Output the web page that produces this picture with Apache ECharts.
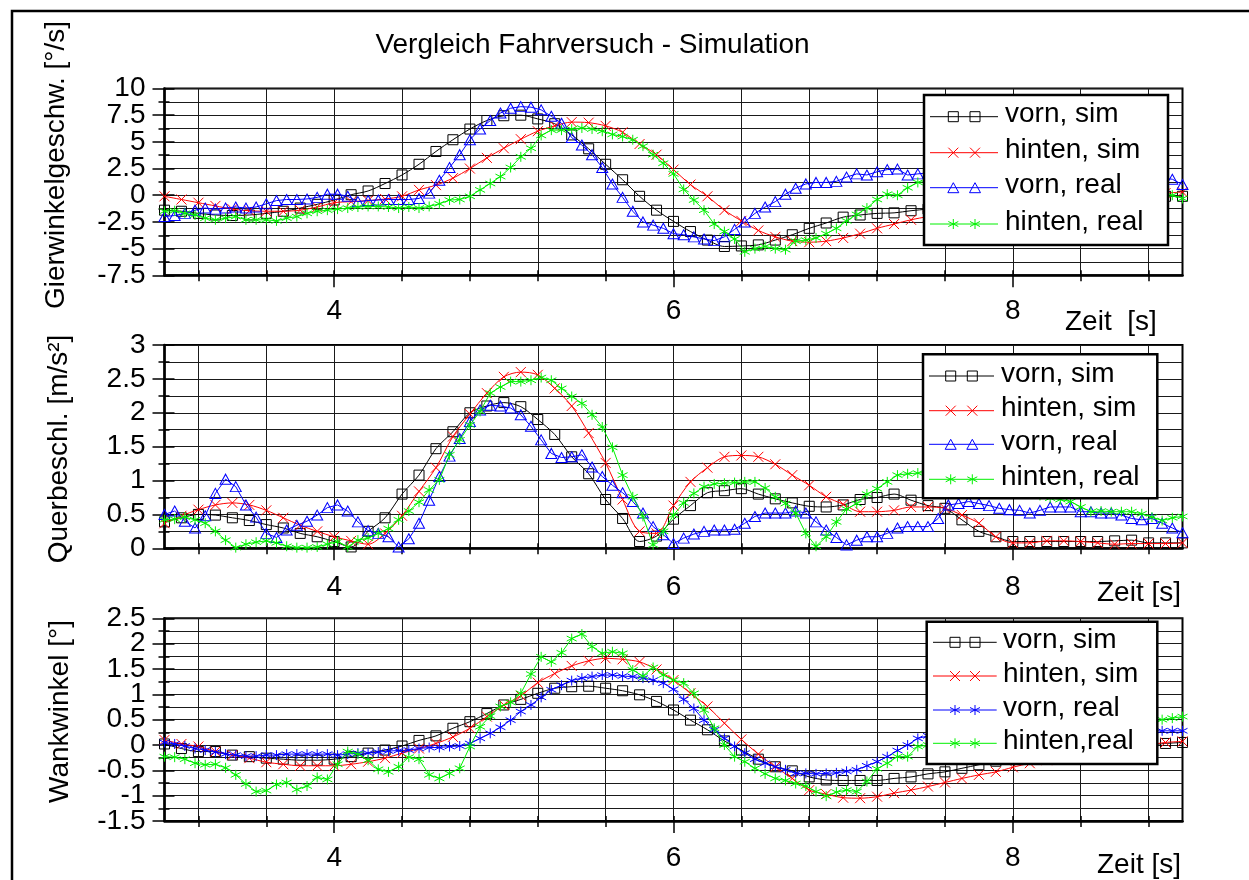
<!DOCTYPE html>
<html><head><meta charset="utf-8">
<script src="https://cdn.jsdelivr.net/npm/echarts@6/dist/echarts.min.js"></script>
<style>html,body{margin:0;padding:0;background:#fff}#c{width:1249px;height:880px}</style>
</head><body><div id="c"></div>
<script>
// ---------------- DATA ----------------
const TITLE = 'Vergleich Fahrversuch - Simulation';
const Y_NAMES = ['Gierwinkelgeschw. [°/s]', 'Querbeschl. [m/s²]', 'Wankwinkel [°]'];
const X_NAMES = ['Zeit  [s]', 'Zeit [s]', 'Zeit [s]'];
const LEGEND_1 = ['vorn, sim', 'hinten, sim', 'vorn, real', 'hinten, real'];
const LEGEND_2 = ['vorn, sim', 'hinten, sim', 'vorn, real', 'hinten, real'];
const LEGEND_3 = ['vorn, sim', 'hinten, sim', 'vorn, real', 'hinten,real'];
const X_LABELS = [4, 6, 8];
const X_GRID_TICKS = [3.2,3.6,4,4.4,4.8,5.2,5.6,6,6.4,6.8,7.2,7.6,8,8.4,8.8];
const Y_TICKS_1 = [-7.5,-5,-2.5,0,2.5,5,7.5,10];
const Y_TICKS_2 = [0,0.5,1,1.5,2,2.5,3];
const Y_TICKS_3 = [-1.5,-1,-0.5,0,0.5,1,1.5,2,2.5];

// sampling: simulation every 0.1 s, measurement every 0.06 s, starting at 3 s
const SIM_START = 3, SIM_STEP = 0.1;
const REAL_START = 3, REAL_STEP = 0.06;

// Panel 1: Gierwinkelgeschwindigkeit
const P1_VORN_SIM = [-1.4,-1.5,-1.7,-1.85,-1.9,-1.85,-1.7,-1.5,-1.2,-0.85,
 -0.45,0.05,0.4,1.1,1.9,2.9,4.1,5.2,6.2,7.0,
 7.45,7.5,7.15,6.7,5.65,4.35,2.9,1.45,-0.1,-1.4,
 -2.45,-3.4,-4.2,-4.8,-4.75,-4.65,-4.2,-3.7,-3.1,-2.6,
 -2.05,-1.85,-1.7,-1.65,-1.45,-1.3,-1.2,-1.1,-0.95,-0.85,
 -0.75,-0.6,-0.5,-0.4,-0.35,-0.3,-0.25,-0.2,-0.15,-0.1,-0.1];
const P1_HINTEN_SIM = [-0.1,-0.4,-0.7,-1.0,-1.3,-1.45,-1.5,-1.5,-1.4,-1.1,
 -0.7,-0.6,-0.5,-0.35,-0.1,0.5,0.95,1.6,2.5,3.5,
 4.4,5.25,6.0,6.5,6.85,6.8,6.5,5.9,4.8,3.8,
 2.4,1.0,-0.1,-1.4,-2.4,-3.3,-3.9,-4.3,-4.4,-4.3,
 -4.0,-3.6,-3.1,-2.7,-2.3,-2.0,-1.75,-1.5,-1.3,-1.1,
 -0.95,-0.8,-0.65,-0.5,-0.4,-0.3,-0.15,0.0,0.1,0.2,0.3];
const P1_VORN_REAL = [-2.0,-1.9,-1.7,-1.4,-1.2,-1.3,-1.2,-1.1,-1.2,-1.1,
 -0.8,-0.5,-0.4,-0.4,-0.35,-0.2,0.1,0.1,-0.1,-0.6,
 -0.5,-0.45,-0.4,-0.4,-0.4,-0.3,0.2,1.4,2.6,3.8,
 5.2,6.2,7.0,7.7,8.15,8.3,8.25,8.0,7.4,6.75,
 5.4,4.7,3.8,2.6,1.05,-0.2,-1.5,-2.5,-2.8,-3.1,
 -3.6,-3.7,-3.9,-4.1,-4.25,-3.9,-3.2,-2.5,-1.7,-1.1,
 -0.6,0.1,0.66,1.06,1.2,1.2,1.3,1.7,2.0,1.9,
 2.2,2.4,2.45,1.9,2.0,2.1,2.2,2.1,2.0,2.1,
 2.2,2.1,2.0,1.9,2.0,2.1,2.0,1.9,1.8,1.9,
 2.0,1.9,1.8,1.7,1.8,1.9,1.8,1.7,1.6,1.5,1.0];
const P1_HINTEN_REAL = [-1.5,-1.45,-1.7,-1.85,-2.15,-2.3,-2.15,-2.0,-2.3,-2.3,
 -2.3,-2.4,-2.15,-2.0,-1.7,-1.5,-1.4,-1.3,-1.2,-1.1,
 -1.05,-1.05,-1.1,-1.2,-1.1,-1.2,-1.05,-0.8,-0.45,-0.4,
 -0.1,0.5,1.1,1.75,2.6,3.6,4.4,5.6,6.1,6.1,
 6.2,6.3,6.2,6.0,5.7,5.5,5.2,4.6,3.8,3.0,
 2.0,0.55,-0.45,-1.4,-2.7,-3.4,-4.1,-5.3,-5.0,-4.8,
 -5.0,-5.1,-4.3,-4.2,-4.0,-3.6,-3.1,-2.4,-1.8,-1.2,
 -0.4,0.1,0.0,0.7,1.2,1.3,1.35,1.4,1.35,1.3,
 1.25,1.2,1.1,1.0,0.9,0.8,0.7,0.6,0.5,0.45,
 0.4,0.35,0.3,0.25,0.2,0.2,0.15,0.1,0.1,0.0,-0.3];

// Panel 2: Querbeschleunigung
const P2_VORN_SIM = [0.39,0.45,0.5,0.49,0.45,0.41,0.35,0.3,0.22,0.17,
 0.1,0.02,0.25,0.45,0.8,1.08,1.47,1.72,2.0,2.1,
 2.15,2.09,1.9,1.68,1.35,1.1,0.72,0.44,0.1,0.18,
 0.43,0.63,0.82,0.85,0.88,0.8,0.73,0.67,0.62,0.61,
 0.64,0.72,0.75,0.8,0.71,0.63,0.59,0.42,0.25,0.17,
 0.1,0.1,0.1,0.1,0.1,0.1,0.11,0.12,0.08,0.08,0.08];
const P2_HINTEN_SIM = [0.37,0.48,0.57,0.64,0.67,0.64,0.56,0.45,0.34,0.25,
 0.17,0.11,0.06,0.22,0.48,0.84,1.19,1.65,1.98,2.29,
 2.53,2.6,2.56,2.36,2.1,1.7,1.26,0.72,0.25,0.22,
 0.63,0.98,1.19,1.35,1.37,1.35,1.24,1.08,0.93,0.76,
 0.65,0.54,0.54,0.56,0.61,0.61,0.59,0.49,0.37,0.17,
 0.08,0.08,0.11,0.11,0.1,0.08,0.06,0.07,0.07,0.07,0.08];
const P2_VORN_REAL = [0.5,0.55,0.4,0.3,0.48,0.81,1.02,0.91,0.64,0.46,
 0.22,0.16,0.27,0.34,0.4,0.49,0.6,0.64,0.55,0.39,
 0.26,0.22,0.17,0.02,0.14,0.37,0.71,1.06,1.36,1.62,
 1.87,2.04,2.11,2.1,2.07,1.97,1.8,1.6,1.4,1.34,
 1.35,1.38,1.2,1.06,0.93,0.82,0.69,0.52,0.32,0.2,
 0.07,0.15,0.21,0.25,0.27,0.27,0.28,0.37,0.47,0.52,
 0.52,0.52,0.55,0.52,0.39,0.27,0.16,0.05,0.12,0.17,
 0.17,0.22,0.3,0.32,0.32,0.32,0.44,0.64,0.66,0.69,
 0.66,0.63,0.59,0.57,0.56,0.52,0.56,0.61,0.61,0.61,
 0.54,0.54,0.52,0.52,0.49,0.44,0.42,0.44,0.37,0.3,0.23];
const P2_HINTEN_REAL = [0.42,0.43,0.46,0.42,0.37,0.25,0.12,0.01,0.06,0.09,
 0.11,0.08,0.03,0.01,0.01,0.02,0.06,0.1,0.02,0.12,
 0.15,0.22,0.29,0.42,0.55,0.68,0.86,1.01,1.38,1.6,
 1.82,2.02,2.29,2.38,2.46,2.46,2.48,2.52,2.48,2.36,
 2.24,2.14,1.97,1.79,1.49,1.08,0.76,0.47,0.05,0.25,
 0.49,0.67,0.81,0.91,0.95,0.96,0.97,0.98,0.98,0.89,
 0.76,0.66,0.52,0.22,0.03,0.17,0.39,0.58,0.66,0.8,
 0.88,0.98,1.08,1.1,1.11,1.12,1.12,1.1,1.08,1.05,
 1.0,0.97,0.93,0.9,0.86,0.82,0.78,0.74,0.72,0.69,
 0.61,0.54,0.55,0.54,0.54,0.54,0.51,0.46,0.41,0.45,0.47];

// Panel 3: Wankwinkel
const P3_VORN_SIM = [0.02,-0.07,-0.13,-0.13,-0.2,-0.23,-0.26,-0.28,-0.3,-0.3,
 -0.28,-0.23,-0.16,-0.1,-0.02,0.09,0.18,0.33,0.46,0.62,
 0.79,0.9,1.02,1.12,1.15,1.16,1.12,1.07,0.99,0.86,
 0.69,0.49,0.3,0.08,-0.1,-0.28,-0.43,-0.51,-0.63,-0.69,
 -0.7,-0.7,-0.7,-0.66,-0.63,-0.57,-0.53,-0.46,-0.39,-0.32,
 -0.25,-0.22,-0.18,-0.15,-0.12,-0.09,-0.06,-0.03,0.0,0.03,0.05];
const P3_HINTEN_SIM = [0.1,0.02,-0.03,-0.13,-0.2,-0.26,-0.34,-0.38,-0.41,-0.41,
 -0.41,-0.38,-0.33,-0.26,-0.16,-0.07,0.03,0.16,0.33,0.56,
 0.79,0.97,1.23,1.41,1.56,1.66,1.71,1.69,1.64,1.49,
 1.28,1.02,0.76,0.43,0.11,-0.18,-0.43,-0.66,-0.89,-0.97,
 -1.04,-1.05,-1.02,-0.95,-0.89,-0.82,-0.74,-0.66,-0.59,-0.53,
 -0.44,-0.36,-0.3,-0.25,-0.2,-0.15,-0.1,-0.05,0.0,0.05,0.07];
const P3_VORN_REAL = [0.05,0.02,-0.02,-0.07,-0.1,-0.14,-0.18,-0.2,-0.22,-0.22,
 -0.2,-0.2,-0.18,-0.18,-0.18,-0.18,-0.18,-0.2,-0.18,-0.16,
 -0.16,-0.14,-0.12,-0.11,-0.1,-0.07,-0.05,-0.05,-0.03,-0.02,
 0.03,0.13,0.23,0.35,0.49,0.66,0.79,0.94,1.09,1.18,
 1.27,1.32,1.35,1.38,1.38,1.36,1.35,1.32,1.28,1.22,
 1.1,0.9,0.72,0.49,0.3,0.13,-0.03,-0.16,-0.28,-0.36,
 -0.43,-0.49,-0.56,-0.56,-0.57,-0.56,-0.55,-0.52,-0.49,-0.41,
 -0.33,-0.23,-0.11,0.0,0.13,0.18,0.22,0.25,0.27,0.28,
 0.29,0.3,0.3,0.31,0.31,0.31,0.3,0.3,0.3,0.29,
 0.29,0.29,0.28,0.28,0.28,0.28,0.28,0.28,0.28,0.28,0.28];
const P3_HINTEN_REAL = [-0.23,-0.24,-0.28,-0.36,-0.39,-0.38,-0.45,-0.59,-0.77,-0.92,
 -0.9,-0.78,-0.74,-0.88,-0.81,-0.64,-0.68,-0.38,-0.13,-0.18,
 -0.3,-0.48,-0.53,-0.43,-0.24,-0.28,-0.59,-0.66,-0.56,-0.46,
 -0.03,0.36,0.57,0.76,0.84,1.02,1.4,1.74,1.64,1.82,
 2.1,2.19,1.94,1.81,1.84,1.81,1.48,1.36,1.53,1.38,
 1.28,1.22,1.02,0.69,0.33,0.0,-0.23,-0.33,-0.46,-0.57,
 -0.66,-0.7,-0.76,-0.81,-0.92,-1.01,-0.93,-0.89,-0.92,-0.72,
 -0.47,-0.36,-0.23,-0.23,-0.03,0.0,0.04,0.07,0.09,0.12,
 0.14,0.15,0.18,0.2,0.21,0.24,0.26,0.27,0.3,0.32,
 0.33,0.36,0.38,0.4,0.41,0.44,0.46,0.47,0.5,0.53,0.56];

// ---------------- STYLE / LAYOUT ----------------
const FONT = '"Liberation Sans", Arial, sans-serif';
const MARKS = {
  SQ:  {poly:[[0,0],[10,0],[10,10],[0,10]]},
  XX:  {lines:[[0,0,10,10],[10,0,0,10]]},
  TRI: {poly:[[5,0],[10,9],[0,9]]},
  AST: {lines:[[5,0,5,10],[0.7,2.5,9.3,7.5],[0.7,7.5,9.3,2.5]]}
};
function markPath(m){
  if (m.poly) return 'path://M' + m.poly.map(p=>p[0]+','+p[1]).join('L') + 'Z';
  return 'path://' + m.lines.map(l=>'M'+l[0]+','+l[1]+'L'+l[2]+','+l[3]).join('');
}
const STY = {
  vs: {color:'#000000', mark:'SQ',  size:[10,10], smooth:0.3},
  hs: {color:'#ff0000', mark:'XX',  size:[10,10], smooth:0.3},
  vrT:{color:'#0000ff', mark:'TRI', size:[11,10], smooth:false},
  vrA:{color:'#0000ff', mark:'AST', size:[10,10], smooth:false},
  hr: {color:'#00f000', mark:'AST', size:[10,10], smooth:false}
};
const PLOT_LEFT = 164.5, PLOT_WIDTH = 1018;
const PANELS = [
  {top:88.5, height:186.8, yTicks:Y_TICKS_1, labelMargin:22,
   series:[[P1_VORN_SIM,'vs'],[P1_HINTEN_SIM,'hs'],[P1_VORN_REAL,'vrT'],[P1_HINTEN_REAL,'hr']],
   yName:{x:56,y:165}, xName:{x:1065,y:322},
   legend:{x:924,y:95,w:244,h:150,l1:930,l2:998,m1:953.3,m2:975,tx:1005,rows:[116.7,152.7,187.7,224],labels:LEGEND_1}},
  {top:345, height:203.3, yTicks:Y_TICKS_2, labelMargin:25,
   series:[[P2_VORN_SIM,'vs'],[P2_HINTEN_SIM,'hs'],[P2_VORN_REAL,'vrT'],[P2_HINTEN_REAL,'hr']],
   yName:{x:59,y:449}, xName:{x:1097,y:593.5},
   legend:{x:923,y:354.3,w:234.3,h:144,l1:929,l2:994,m1:950.7,m2:972.3,tx:1001,rows:[376,410.7,444.3,479.3],labels:LEGEND_2}},
  {top:618.3, height:202.7, yTicks:Y_TICKS_3, labelMargin:23,
   series:[[P3_VORN_SIM,'vs'],[P3_HINTEN_SIM,'hs'],[P3_VORN_REAL,'vrA'],[P3_HINTEN_REAL,'hr']],
   yName:{x:60,y:711.5}, xName:{x:1097,y:865},
   legend:{x:926.7,y:621.7,w:230.6,h:142.3,l1:933,l2:996.7,m1:955,m2:975,tx:1003,rows:[642.3,676,710,743.3],labels:LEGEND_3}}
];
const GRID_COLOR = '#1a1a1a';

function times(n, start, step){ const t=[]; for(let i=0;i<n;i++) t.push(+(start+step*i).toFixed(3)); return t; }

function markerEls(s, cx, cy){
  const m = MARKS[s.mark];
  const pts = m.poly ? m.poly : m.lines.flatMap(l=>[[l[0],l[1]],[l[2],l[3]]]);
  const xs = pts.map(p=>p[0]), ys = pts.map(p=>p[1]);
  const x0=Math.min(...xs), x1=Math.max(...xs), y0=Math.min(...ys), y1=Math.max(...ys);
  const sx = s.size[0]/(x1-x0), sy = s.size[1]/(y1-y0);
  const tx = x=>cx - s.size[0]/2 + (x-x0)*sx, ty = y=>cy - s.size[1]/2 + (y-y0)*sy;
  const st = {fill:'none', stroke:s.color, lineWidth:1};
  if (m.poly) return [{type:'polygon', shape:{points:m.poly.map(p=>[tx(p[0]),ty(p[1])])}, style:st, z:102}];
  return m.lines.map(l=>({type:'line', shape:{x1:tx(l[0]),y1:ty(l[1]),x2:tx(l[2]),y2:ty(l[3])}, style:st, z:102}));
}

const grids=[], xAxes=[], yAxes=[], series=[], graphics=[];
graphics.push({type:'rect', shape:{x:12,y:11,width:1400,height:1000}, style:{fill:'none',stroke:'#000',lineWidth:2.5}, z:1});
graphics.push({type:'text', x:592.5, y:45, style:{text:TITLE, font:'28px '+FONT, fill:'#000', align:'center', verticalAlign:'middle'}, z:5});

PANELS.forEach((p,k)=>{
  grids.push({left:PLOT_LEFT, top:p.top, width:PLOT_WIDTH, height:p.height, show:true, borderColor:'#000', borderWidth:2, backgroundColor:'rgba(0,0,0,0)', outerBoundsMode:'none'});
  const base = {gridIndex:k, type:'value', min:3, max:9, position:'bottom', axisLine:{show:false, onZero:false}, splitLine:{show:false}, axisLabel:{show:false}, axisTick:{show:false}};
  xAxes.push(Object.assign({}, base, {interval:0.2, axisLine:{show:true,onZero:false,lineStyle:{color:'#000',width:2.5}},
     splitLine:{show:true, lineStyle:{color:['rgba(0,0,0,0)',GRID_COLOR], width:1}}}));
  xAxes.push(Object.assign({}, base, {axisTick:{show:true, customValues:X_GRID_TICKS, length:6, lineStyle:{color:'#000',width:1.5}},
     axisLabel:{show:true, customValues:X_LABELS, fontSize:28, fontFamily:FONT, color:'#000', margin:p.labelMargin}}));
  xAxes.push(Object.assign({}, base, {axisTick:{show:true, inside:true, customValues:X_GRID_TICKS, length:5, lineStyle:{color:'#000',width:1.5}}}));
  xAxes.push(Object.assign({}, base, {axisTick:{show:true, customValues:X_LABELS, length:12, lineStyle:{color:'#000',width:1.5}}}));

  const yt=p.yTicks, ymin=yt[0], ymax=yt[yt.length-1], yint=yt[1]-yt[0];
  const evenLabels = yt.filter((v,i)=>i%2===0), oddLabels = yt.filter((v,i)=>i%2===1);
  const lab = (vals)=>({show:true,fontSize:28,fontFamily:FONT,color:'#000',margin:19,lineHeight:22,
               customValues:vals, showMinLabel:true, showMaxLabel:true, hideOverlap:false});
  yAxes.push({gridIndex:k, type:'value', position:'left', min:ymin, max:ymax, interval:yint,
    axisLine:{show:true,onZero:false,lineStyle:{color:'#000',width:2.5}},
    axisTick:{show:true,length:12,lineStyle:{color:'#000',width:1.5}},
    minorTick:{show:true,splitNumber:2,length:6,lineStyle:{color:'#000',width:1.5}},
    axisLabel:lab(evenLabels),
    splitLine:{show:true,lineStyle:{color:GRID_COLOR,width:1}},
    minorSplitLine:{show:true,lineStyle:{color:GRID_COLOR,width:1}}});
  yAxes.push({gridIndex:k, type:'value', position:'left', min:ymin, max:ymax, interval:yint,
    axisLine:{show:false,onZero:false},
    axisTick:{show:true,inside:true,length:10,lineStyle:{color:'#000',width:1.5}},
    minorTick:{show:true,splitNumber:2,length:5,lineStyle:{color:'#000',width:1.5}},
    axisLabel:lab(oddLabels), splitLine:{show:false}});

  p.series.forEach(([vals,key],j)=>{
    const s=STY[key];
    const isSim = (key==='vs'||key==='hs');
    const t = isSim ? times(vals.length, SIM_START, SIM_STEP) : times(vals.length, REAL_START, REAL_STEP);
    series.push({type:'line', xAxisIndex:4*k, yAxisIndex:2*k, data:t.map((x,i)=>[x,vals[i]]),
      symbol:markPath(MARKS[s.mark]), symbolSize:s.size, showAllSymbol:true, smooth:s.smooth,
      lineStyle:{color:s.color,width:1}, itemStyle:{color:'rgba(0,0,0,0)',borderColor:s.color,borderWidth:1},
      emphasis:{disabled:true}, silent:true, z:2+j, animation:false});
  });

  graphics.push({type:'text', x:p.yName.x, y:p.yName.y, rotation:Math.PI/2,
    style:{text:Y_NAMES[k], font:'28px '+FONT, fill:'#000', align:'center', verticalAlign:'middle'}, z:5});
  graphics.push({type:'text', x:p.xName.x, y:p.xName.y,
    style:{text:X_NAMES[k], font:'28px '+FONT, fill:'#000', align:'left', verticalAlign:'middle'}, z:5});

  const L=p.legend;
  graphics.push({type:'rect', shape:{x:L.x,y:L.y,width:L.w,height:L.h}, style:{fill:'#fff',stroke:'#000',lineWidth:2.5}, z:100});
  p.series.forEach(([vals,key],j)=>{
    const s=STY[key], yy=L.rows[j];
    graphics.push({type:'line', shape:{x1:L.l1,y1:yy,x2:L.l2,y2:yy}, style:{stroke:s.color,lineWidth:1}, z:101});
    [L.m1,L.m2].forEach(mx=>{ markerEls(s, mx, yy).forEach(e=>graphics.push(e)); });
    graphics.push({type:'text', x:L.tx, y:yy-2, style:{text:L.labels[j], font:'28px '+FONT, fill:'#000', align:'left', verticalAlign:'middle'}, z:102});
  });
});

const chart = echarts.init(document.getElementById('c'), null, {renderer:'canvas'});
chart.setOption({animation:false, backgroundColor:'#fff', grid:grids, xAxis:xAxes, yAxis:yAxes, series:series, graphic:{elements:graphics}});
</script></body></html>
